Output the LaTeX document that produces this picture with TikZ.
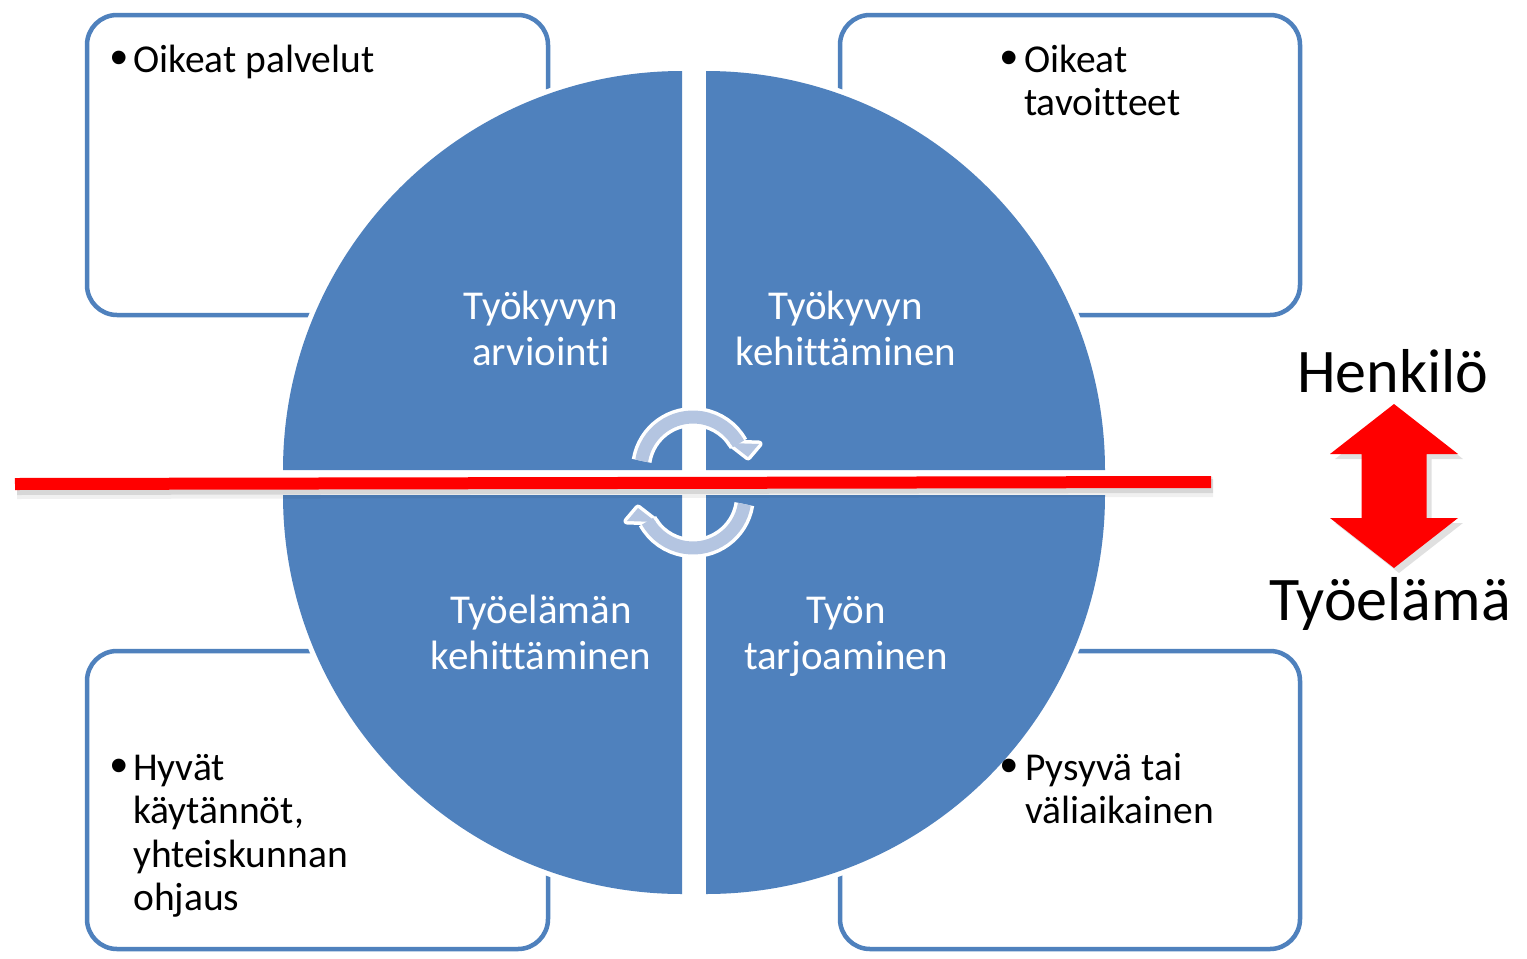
\documentclass[tikz,border=0pt]{standalone}
\usepackage{fontspec}
\setmainfont{Carlito}[Ligatures=NoCommon]
\newfontfamily\bulletfont{Liberation Sans}
\definecolor{qblue}{HTML}{4F81BD}
\definecolor{arrowfill}{HTML}{B4C5E1}
\definecolor{redline}{HTML}{FF0000}
\tikzset{
  box/.style={draw=qblue, line width=4.5pt, rounded corners=30pt, fill=white},
  quadfill/.style={fill=qblue},
  quadhalo/.style={fill=white},
  qtext/.style={text=white, font=\fontsize{41}{46}\selectfont, inner sep=0pt, anchor=base},
  btext/.style={text=black, font=\fontsize{39.5}{44}\selectfont, inner sep=0pt, anchor=base west},
  bulletmark/.style={text=black, font=\bulletfont\fontsize{50}{44}\selectfont, inner sep=0pt, anchor=base},
  bigtext/.style={text=black, font=\fontsize{62}{70}\selectfont, inner sep=0pt, anchor=base},
  cyclehalo/.style={white, line width=20pt},
  cycleband/.style={arrowfill, line width=13pt},
  headhalo/.style={fill=white, draw=white, line width=7pt, line join=round},
  headfill/.style={fill=arrowfill},
}
\begin{document}
\begin{tikzpicture}[x=1pt, y=-1pt]
\useasboundingbox (0,0) rectangle (1527,959);
\fill[white] (0,0) rectangle (1527,959);

% corner boxes
\draw[box] (87,15) rectangle (548,315);
\draw[box] (840,15) rectangle (1300,315);
\draw[box] (87,651) rectangle (548,949);
\draw[box] (840,651) rectangle (1300,949);

% quadrant halos
\fill[quadhalo] (682,470) -- ++(-404,0) arc[start angle=180, end angle=270, radius=404] -- cycle;
\fill[quadhalo] (706,470) -- ++(0,-404) arc[start angle=270, end angle=360, radius=404] -- cycle;
\fill[quadhalo] (706,495) -- ++(404,0) arc[start angle=0, end angle=90, radius=404] -- cycle;
\fill[quadhalo] (682,495) -- ++(0,404) arc[start angle=90, end angle=180, radius=404] -- cycle;
% quadrants
\fill[quadfill] (682,470) -- ++(-399,0) arc[start angle=180, end angle=270, radius=399] -- cycle;
\fill[quadfill] (706,470) -- ++(0,-399) arc[start angle=270, end angle=360, radius=399] -- cycle;
\fill[quadfill] (706,495) -- ++(399,0) arc[start angle=0, end angle=90, radius=399] -- cycle;
\fill[quadfill] (682,495) -- ++(0,399) arc[start angle=90, end angle=180, radius=399] -- cycle;

% quadrant texts
\node[qtext] (q1a) at (541,319) {Työkyvyn};
\node[qtext] (q1b) at (541,365) {arviointi};
\node[qtext] (q2a) at (846,319) {Työkyvyn};
\node[qtext] (q2b) at (846,365) {kehittäminen};
\node[qtext] (q3a) at (541,623) {Työelämän};
\node[qtext] (q3b) at (541,669) {kehittäminen};
\node[qtext] (q4a) at (846,623) {Työn};
\node[qtext] (q4b) at (846,669) {tarjoaminen};

% cycle arrows
\coordinate (ctop) at (693,469);
\coordinate (cbot) at (693,496);
\draw[cyclehalo] ([shift={(189:52)}]ctop) arc[start angle=189, end angle=331, radius=52];
\filldraw[headhalo] (730,443) -- (759,444) -- (748,457) -- cycle;
\draw[cyclehalo] ([shift={(9:52)}]cbot) arc[start angle=9, end angle=151, radius=52];
\filldraw[headhalo] (656,522) -- (627,521) -- (638,508) -- cycle;
\draw[cycleband] ([shift={(189:52)}]ctop) arc[start angle=189, end angle=331, radius=52];
\fill[headfill] (730,443) -- (759,444) -- (748,457) -- cycle;
\draw[cycleband] ([shift={(9:52)}]cbot) arc[start angle=9, end angle=151, radius=52];
\fill[headfill] (656,522) -- (627,521) -- (638,508) -- cycle;

% red line with shadow
\coordinate (rl1) at (15,484);
\coordinate (rl2) at (1211,482);
\draw[black, opacity=0.06, line width=20pt] ([shift={(2,5)}]rl1) -- ([shift={(2,5)}]rl2);
\draw[black, opacity=0.10, line width=14pt] ([shift={(2,4)}]rl1) -- ([shift={(2,4)}]rl2);
\draw[redline, line width=12pt] (rl1) -- (rl2);

% red double arrow with shadow
\fill[black, opacity=0.12, shift={(5,5)}] (1394,404) -- (1458,454) -- (1426.5,454) -- (1426.5,518) -- (1458,518) -- (1394,568) -- (1330,518) -- (1361.5,518) -- (1361.5,454) -- (1330,454) -- cycle;
\fill[redline] (1394,404) -- (1458,454) -- (1426.5,454) -- (1426.5,518) -- (1458,518) -- (1394,568) -- (1330,518) -- (1361.5,518) -- (1361.5,454) -- (1330,454) -- cycle;

\node[bigtext] (henk) at (1393,392) {Henkilö};
\node[bigtext] (tyoel) at (1390,620) {Työelämä};

% box texts
\node[bulletmark] (b1) at (119,74) {•};
\node[btext] (t1a) at (133,72) {Oikeat palvelut};

\node[bulletmark] (b2) at (1009,74) {•};
\node[btext] (t2a) at (1024,72) {Oikeat};
\node[btext] (t2b) at (1024,115.5) {tavoitteet};

\node[bulletmark] (b3) at (119,782) {•};
\node[btext] (t3a) at (133,780) {Hyvät};
\node[btext] (t3b) at (133,823.5) {käytännöt,};
\node[btext] (t3c) at (133,867) {yhteiskunnan};
\node[btext] (t3d) at (133,910.5) {ohjaus};

\node[bulletmark] (b4) at (1009,782) {•};
\node[btext] (t4a) at (1025,780) {Pysyvä tai};
\node[btext] (t4b) at (1025,823.5) {väliaikainen};
\end{tikzpicture}
\end{document}
